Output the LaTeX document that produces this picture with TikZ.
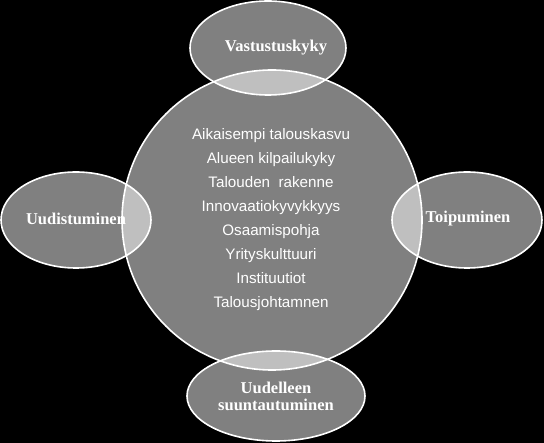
\documentclass[tikz,border=0pt]{standalone}
\usepackage{fontspec}
\setmainfont{Liberation Serif}
\newfontfamily\arialf{Liberation Sans}
\begin{document}
\begin{tikzpicture}[x=1pt,y=-1pt,
  blob/.style={draw=white,line width=1.6pt,fill=white,fill opacity=0.5,draw opacity=1},
  lbl/.style={text=white,font=\bfseries\fontsize{16.5}{17}\selectfont,align=center,text opacity=1},
  ctr/.style={text=white,font=\arialf\fontsize{15.2}{24}\selectfont,align=center}]
\fill[black] (0,0) rectangle (544,443);
\useasboundingbox (0,0) rectangle (544,443);
\path[blob] (272,220) circle[radius=150];
\path[blob] (268,48) ellipse[x radius=78,y radius=47];
\path[blob] (76,220) ellipse[x radius=75,y radius=48];
\path[blob] (467,220) ellipse[x radius=75,y radius=48];
\path[blob] (276,396) ellipse[x radius=89,y radius=45];
\node[ctr] (core) at (271,220) {Aikaisempi talouskasvu\\Alueen kilpailukyky\\Talouden\ \ rakenne\\Innovaatiokyvykkyys\\Osaamispohja\\Yrityskulttuuri\\Instituutiot\\Talousjohtamnen};
\node[lbl] (top) at (276,48) {Vastustuskyky};
\node[lbl] (left) at (76,219) {Uudistuminen};
\node[lbl] (right) at (468,219) {Toipuminen};
\node[lbl] (bot) at (276,396) {Uudelleen\\suuntautuminen};
\end{tikzpicture}
\end{document}
